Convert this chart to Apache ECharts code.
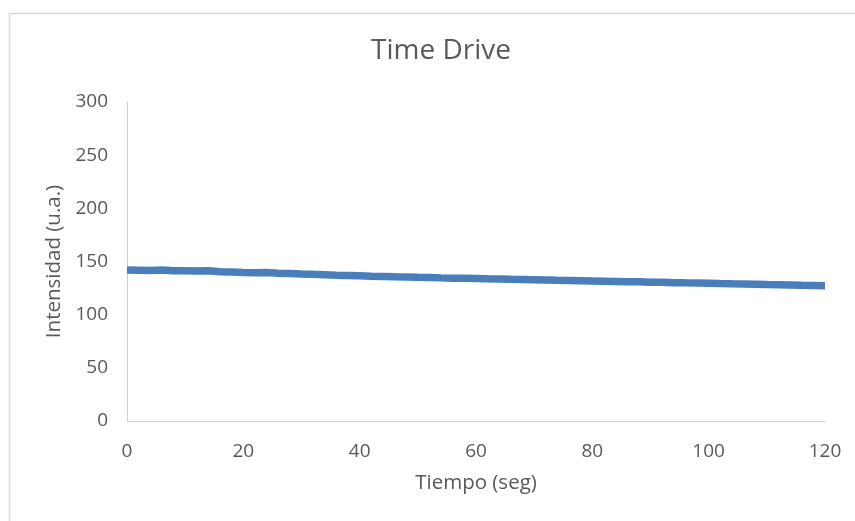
<!DOCTYPE html>
<html>
<head>
<meta charset="utf-8">
<script src="https://cdn.jsdelivr.net/npm/echarts@6/dist/echarts.min.js"></script>
<style>
  html, body { margin: 0; padding: 0; background: #fff; }
  #chart { width: 855px; height: 521px; }
</style>
</head>
<body>
<div id="chart"></div>
<script>
// tiempo (seg), lecturas cada 2 s
const tiempo = [];
for (let t = 0; t <= 120; t += 2) tiempo.push(t);

// intensidad (u.a.)
const intensidad = [
  142.0, 141.8, 141.6, 141.9, 141.3, 141.2, 141.0, 141.4, 140.4, 140.2,
  139.6, 139.5, 139.6, 139.0, 138.8, 138.3, 137.9, 137.6, 137.1, 136.8,
  136.5, 136.2, 136.0, 135.7, 135.5, 135.2, 135.0, 134.6, 134.3, 134.2,
  134.0, 133.7, 133.5, 133.2, 133.0, 132.8, 132.6, 132.3, 132.1, 131.9,
  131.7, 131.5, 131.3, 131.0, 130.9, 130.6, 130.4, 130.1, 129.9, 129.8,
  129.5, 129.2, 129.0, 128.9, 128.6, 128.3, 128.1, 127.9, 127.6, 127.4,
  127.1
];

const xTicks = { min: 0, max: 120, interval: 20 };
const yTicks = { min: 0, max: 300, interval: 50 };

const gris = '#595959';
const fuente = '"Open Sans", "Noto Sans", sans-serif';

const chart = echarts.init(document.getElementById('chart'));
chart.setOption({
  animation: false,
  graphic: [{
    type: 'rect',
    shape: { x: 9.5, y: 13.5, width: 900, height: 600 },
    style: { fill: 'none', stroke: '#d9d9d9', lineWidth: 1.5 }
  }],
  title: {
    text: 'Time Drive',
    left: 366,
    top: 32,
    textStyle: { color: gris, fontSize: 28, fontWeight: 'normal', fontFamily: fuente }
  },
  grid: { left: 127, right: 30, top: 102, bottom: 100 },
  xAxis: {
    type: 'value',
    min: xTicks.min, max: xTicks.max, interval: xTicks.interval,
    name: 'Tiempo (seg)',
    nameLocation: 'middle',
    nameGap: 52,
    nameTextStyle: { color: gris, fontSize: 20.5, fontFamily: fuente },
    axisLine: { lineStyle: { color: '#d0d0d0', width: 1 } },
    axisTick: { show: false },
    splitLine: { show: false },
    axisLabel: { color: gris, fontSize: 19, margin: 21, fontFamily: fuente }
  },
  yAxis: {
    type: 'value',
    min: yTicks.min, max: yTicks.max, interval: yTicks.interval,
    name: 'Intensidad (u.a.)',
    nameLocation: 'middle',
    nameGap: 58,
    nameTextStyle: { color: gris, fontSize: 20.5, fontFamily: fuente },
    axisLine: { show: true, lineStyle: { color: '#d0d0d0', width: 1 } },
    axisTick: { show: false },
    splitLine: { show: false },
    axisLabel: { color: gris, fontSize: 19, margin: 19, fontFamily: fuente }
  },
  series: [{
    type: 'line',
    data: tiempo.map((t, i) => [t, intensidad[i]]),
    symbol: 'none',
    lineStyle: { color: '#4a7ebb', width: 7.5 }
  }]
});
</script>
</body>
</html>
